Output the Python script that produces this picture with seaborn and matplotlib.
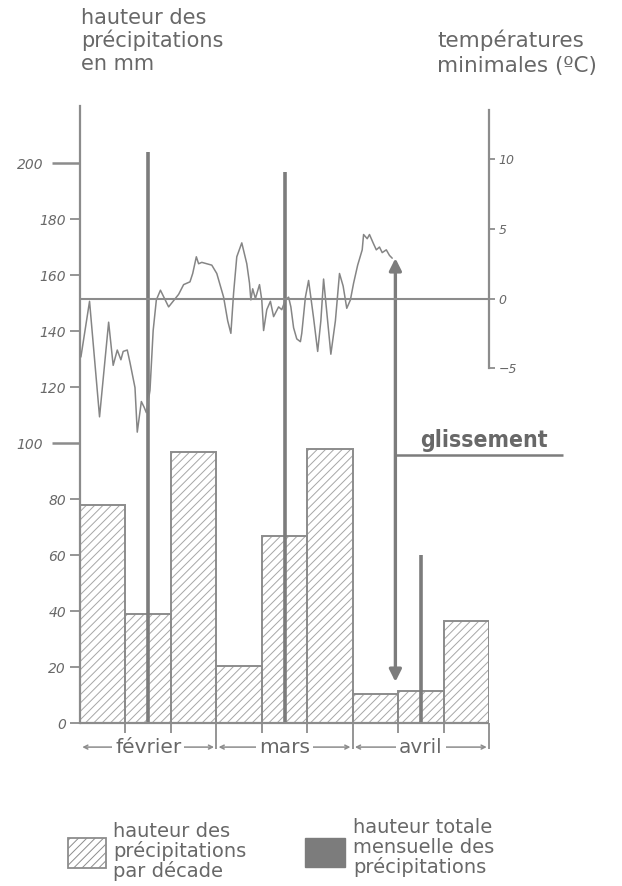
import matplotlib
matplotlib.use("Agg")
import matplotlib.pyplot as plt
from matplotlib import font_manager
from matplotlib.font_manager import FontProperties
from matplotlib.patches import Rectangle
import numpy as np
import pandas as pd
import seaborn as sns

# Hauteur des précipitations par décade (mm), de février à avril
decades = ["fév. 1", "fév. 2", "fév. 3", "mars 1", "mars 2", "mars 3", "avr. 1", "avr. 2", "avr. 3"]
precip_decade = [78, 39, 97, 20.5, 67, 98, 10.5, 11.5, 36.5]

# Hauteur totale mensuelle des précipitations (mm)
mois = ["février", "mars", "avril"]
precip_mois = [204, 197, 60]

# Températures minimales journalières (°C) ; jours comptés depuis le 1er février (10 jours par décade)
jours = [0.2, 2.1, 4.3, 6.3, 7.3, 8.2, 9.0, 9.5, 10.4, 11.0,
         12.1, 12.6, 13.5, 14.1, 14.6, 15.4, 16.1, 16.8, 17.7, 19.5,
         21.7, 22.8, 24.2, 24.8, 25.6, 26.1, 26.8, 29.0, 30.1, 31.6,
         32.5, 33.2, 33.8, 34.5, 35.6, 36.7, 37.3, 37.6, 38.0, 38.6,
         39.5, 40.0, 40.4, 41.1, 41.9, 42.6, 43.7, 44.4, 45.2, 45.9,
         46.4, 47.0, 47.7, 48.5, 48.8, 49.6, 50.3, 51.4, 52.3, 53.0,
         53.6, 54.4, 55.2, 56.2, 57.1, 57.9, 58.7, 59.5, 60.2, 61.1,
         62.1, 62.4, 63.2, 63.7, 64.5, 65.2, 65.9, 66.5, 67.4, 68.1,
         68.7]
tmin = [-4.2, -0.2, -8.5, -1.7, -4.8, -3.7, -4.4, -3.8, -3.7, -4.6,
        -6.4, -9.6, -7.4, -7.8, -8.2, -6.6, -2.3, -0.1, 0.6, -0.6,
        0.3, 1.0, 1.2, 1.8, 3.0, 2.5, 2.6, 2.4, 1.8, 0.1,
        -1.6, -2.5, 0.4, 3.0, 4.0, 2.5, 1.1, -0.1, 0.7, 0.0,
        1.0, -0.1, -2.3, -0.8, -0.2, -1.3, -0.6, -0.8, -0.1, 0.1,
        -0.6, -2.1, -2.9, -3.1, -2.5, 0.1, 1.3, -1.4, -3.8, -1.6,
        1.4, -1.3, -4.0, -1.6, 1.8, 0.9, -0.7, -0.1, 1.1, 2.4,
        3.5, 4.6, 4.3, 4.6, 4.0, 3.5, 3.7, 3.3, 3.5, 3.1,
        2.9]

# Jour du glissement
glissement_jour = 69.4

# Graduations
precip_ticks_major = [100, 200]
precip_ticks_minor = [0, 20, 40, 60, 80, 120, 140, 160, 180]
temp_ticks = [-5, 0, 5, 10]
temp_labels = ["\u22125", "0", "5", "10"]

# ---------------------------------------------------------------- style
sns.set_style("white")
plt.rcParams["font.family"] = ["DejaVu Sans"]
plt.rcParams["hatch.linewidth"] = 0.7

TEXT = "#686868"
EDGE = "#8c8c8c"
HATCH = "#a6a6a6"
DARK = "#7c7c7c"
CURVE = "#858585"

W, H = 622, 886
fig = plt.figure(figsize=(W / 100, H / 100), dpi=100)
fig.patch.set_facecolor("white")


def fx(px):
    return px / W


def fy(py):
    return 1 - py / H


# 0 °C sits at 151.7 mm on the precipitation scale, 1 °C = 4.97 mm
ZERO_MM = 151.7
MM_PER_DEG = 4.97
Y0, Y1 = -12, 222

ax = fig.add_axes([fx(80), fy(756.9), 409 / W, (756.9 - 101.7) / H])

# ---------------------------------------------------------------- bars (decades)
df_bars = pd.DataFrame({"decade": np.arange(len(precip_decade)) + 0.5,
                        "mm": precip_decade})
# hatched fill, then the outlines on top
sns.barplot(data=df_bars, x="decade", y="mm", native_scale=True, width=1,
            color="white", edgecolor=HATCH, linewidth=0, hatch="////",
            errorbar=None, ax=ax)
sns.barplot(data=df_bars, x="decade", y="mm", native_scale=True, width=1,
            fill=False, color=EDGE, linewidth=1.4,
            errorbar=None, ax=ax)

# monthly totals
month_centres = np.arange(len(mois)) * 3 + 1.5
ax.vlines(month_centres, 0, precip_mois, colors=DARK, lw=2.6, zorder=4)

# baseline
ax.hlines(0, 0, 9, colors=EDGE, lw=1.6, zorder=5)

ax.set_xlim(0, 9)
ax.set_ylim(Y0, Y1)
ax.set_xlabel("")
ax.set_ylabel("")
ax.set_xticks([])

for s in ("top", "right", "bottom"):
    ax.spines[s].set_visible(False)
ax.spines["left"].set_bounds(0, 220.5)
ax.spines["left"].set_color(EDGE)
ax.spines["left"].set_linewidth(1.6)

ax.set_yticks(precip_ticks_major, labels=[str(v) for v in precip_ticks_major])
ax.set_yticks(precip_ticks_minor, labels=[str(v) for v in precip_ticks_minor], minor=True)
ax.tick_params(axis="y", which="major", length=20, width=1.8, pad=6.5,
               color=EDGE, labelcolor=TEXT, labelsize=10)
ax.tick_params(axis="y", which="minor", length=7.2, width=1.3, pad=2.8,
               color=EDGE, labelcolor=TEXT, labelsize=10)
for lbl in ax.get_yticklabels(which="both"):
    lbl.set_fontstyle("italic")

# month brackets under the axis
for i in range(1, 10):
    depth = -9 if i % 3 == 0 else -3.5
    ax.vlines(i, depth, 0, colors=EDGE, lw=1.3, clip_on=False)
for i, name in enumerate(mois):
    x0, x1 = 3 * i, 3 * i + 3
    ax.annotate("", xy=(x1 - 0.05, -8.5), xytext=(x0 + 0.05, -8.5),
                arrowprops=dict(arrowstyle="<->", color=EDGE, lw=1.1,
                                mutation_scale=7, shrinkA=0, shrinkB=0),
                annotation_clip=False)
    ax.text(x0 + 1.5, -8.5, name, ha="center", va="center", fontsize=14.5,
            color=TEXT, bbox=dict(boxstyle="square,pad=0.15", fc="white", ec="none"),
            clip_on=False)

# ---------------------------------------------------------------- temperatures
ax2 = ax.twinx()
ax2.set_ylim((Y0 - ZERO_MM) / MM_PER_DEG, (Y1 - ZERO_MM) / MM_PER_DEG)
df_t = pd.DataFrame({"x": np.array(jours) / 10, "t": tmin})
sns.lineplot(data=df_t, x="x", y="t", ax=ax2, color=CURVE, lw=1.1,
             estimator=None, sort=False)
ax2.hlines(0, 0, 9, colors=EDGE, lw=1.5)
ax2.set_xlim(0, 9)
ax2.set_xlabel("")
ax2.set_ylabel("")
for s in ("top", "left", "bottom"):
    ax2.spines[s].set_visible(False)
ax2.spines["right"].set_bounds(-5, 13.56)
ax2.spines["right"].set_color(EDGE)
ax2.spines["right"].set_linewidth(1.6)
ax2.set_yticks(temp_ticks, labels=temp_labels)
ax2.tick_params(axis="y", which="major", length=4.3, width=1.3, pad=2.8,
                color=EDGE, labelcolor=TEXT, labelsize=9)
for lbl in ax2.get_yticklabels():
    lbl.set_fontstyle("italic")

# ---------------------------------------------------------------- landslide
xg = glissement_jour / 10
ax.annotate("", xy=(xg, precip_decade[6] + 4.3),
            xytext=(xg, ZERO_MM + MM_PER_DEG * tmin[-1]),
            arrowprops=dict(arrowstyle="<|-|>", color=DARK, lw=2.4,
                            mutation_scale=18, shrinkA=0, shrinkB=0),
            zorder=6)
ax.hlines(95.8, xg, 10.62, colors=DARK, lw=1.8, clip_on=False)

cond = [f.fname for f in font_manager.fontManager.ttflist
        if "SansCondensed-Bold." in f.fname]
if cond:
    gfont = FontProperties(fname=cond[0], size=16.5)
else:
    gfont = FontProperties(family="DejaVu Sans", weight="bold", size=15)
ax.text(7.49, 98.7, "glissement", fontproperties=gfont, color=TEXT,
        ha="left", va="baseline", clip_on=False)

# ---------------------------------------------------------------- titles


def lines_at(x, baselines, lines, size):
    for b, s in zip(baselines, lines):
        fig.text(fx(x), fy(b), s, ha="left", va="baseline", fontsize=size, color=TEXT)


lines_at(81, [24, 47, 70], ["hauteur des", "précipitations", "en mm"], 15)
lines_at(437, [47, 72], ["températures", "minimales (ºC)"], 15.5)

# ---------------------------------------------------------------- legend
fig.add_artist(Rectangle((fx(68), fy(868)), 38 / W, 30 / H, transform=fig.transFigure,
                         facecolor="white", edgecolor=EDGE, hatch="////", lw=1.3))
lines_at(113, [837, 857, 877], ["hauteur des", "précipitations", "par décade"], 14)
fig.add_artist(Rectangle((fx(305), fy(867)), 40 / W, 29 / H, transform=fig.transFigure,
                         facecolor=DARK, edgecolor=DARK, lw=1))
lines_at(353, [833, 853, 873], ["hauteur totale", "mensuelle des", "précipitations"], 14)

fig.savefig("out.png", dpi=100, facecolor="white")
